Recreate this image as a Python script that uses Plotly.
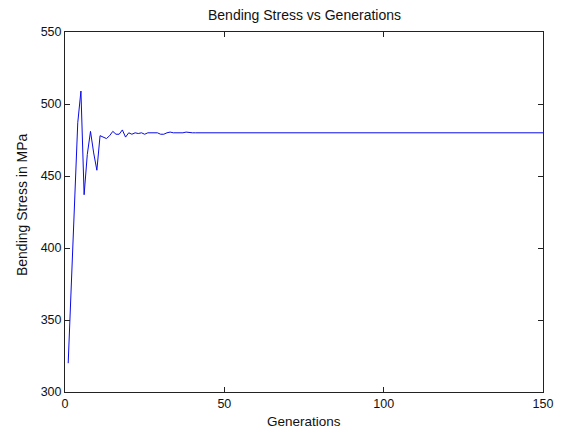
import plotly.graph_objects as go

# Data
generations = list(range(1, 151))
bending_stress = [
    320, 375, 430, 487, 509, 437, 465, 481, 466, 454,
    478, 477, 476, 478, 481, 479, 479, 482, 477, 480,
    479, 480, 479.5, 480, 479, 480, 480, 479.5, 480, 479,
    479, 480, 480.5, 480, 480, 479.5, 480, 480.5, 480, 480,
    480, 480, 480, 480, 480, 480, 480, 480, 480, 480,
    480, 480, 480, 480, 480, 480, 480, 480, 480, 480,
    480, 480, 480, 480, 480, 480, 480, 480, 480, 480,
    480, 480, 480, 480, 480, 480, 480, 480, 480, 480,
    480, 480, 480, 480, 480, 480, 480, 480, 480, 480,
    480, 480, 480, 480, 480, 480, 480, 480, 480, 480,
    480, 480, 480, 480, 480, 480, 480, 480, 480, 480,
    480, 480, 480, 480, 480, 480, 480, 480, 480, 480,
    480, 480, 480, 480, 480, 480, 480, 480, 480, 480,
    480, 480, 480, 480, 480, 480, 480, 480, 480, 480,
    480, 480, 480, 480, 480, 480, 480, 480, 480, 480,
]
x_ticks = [0, 50, 100, 150]
y_ticks = [300, 350, 400, 450, 500, 550]

title_text = "Bending Stress vs Generations"
x_label = "Generations"
y_label = "Bending Stress in MPa"

W, H = 565, 432
L, R, T, B = 65, 19, 32, 40
FONT = "Liberation Sans, Arial, sans-serif"

fig = go.Figure()
fig.add_trace(go.Scatter(
    x=generations, y=bending_stress, mode="lines",
    line=dict(color="#0a0ae6", width=1), showlegend=False,
    hoverinfo="skip",
))

axis_common = dict(
    showgrid=False, zeroline=False, showline=True, linecolor="#222222",
    linewidth=1, mirror="ticks", ticks="inside", ticklen=5,
    tickcolor="#222222", tickwidth=1,
    tickfont=dict(family=FONT, size=12.5, color="#111111"),
)
fig.update_layout(
    width=W, height=H, autosize=False,
    margin=dict(l=L, r=R, t=T, b=B, pad=0),
    paper_bgcolor="white", plot_bgcolor="white",
    xaxis=dict(range=[0, 150], tickvals=x_ticks, ticktext=[str(v) for v in x_ticks], **axis_common),
    yaxis=dict(range=[300, 550], tickvals=y_ticks, ticktext=[str(v) for v in y_ticks], **axis_common),
    annotations=[
        dict(text=title_text, xref="paper", x=0.5, yref="paper", y=1 + 17 / (H - T - B),
             showarrow=False, xanchor="center", yanchor="middle",
             font=dict(family=FONT, size=14, color="#111111")),
        dict(text=x_label, xref="paper", x=0.5, yref="paper", y=-29 / (H - T - B),
             showarrow=False, xanchor="center", yanchor="middle",
             font=dict(family=FONT, size=13.5, color="#111111")),
        dict(text=y_label, xref="paper", x=-43 / (W - L - R), yref="paper", y=0.52,
             showarrow=False, xanchor="center", yanchor="middle", textangle=-90,
             font=dict(family=FONT, size=14, color="#111111")),
    ],
)

fig.write_html("out.html")
